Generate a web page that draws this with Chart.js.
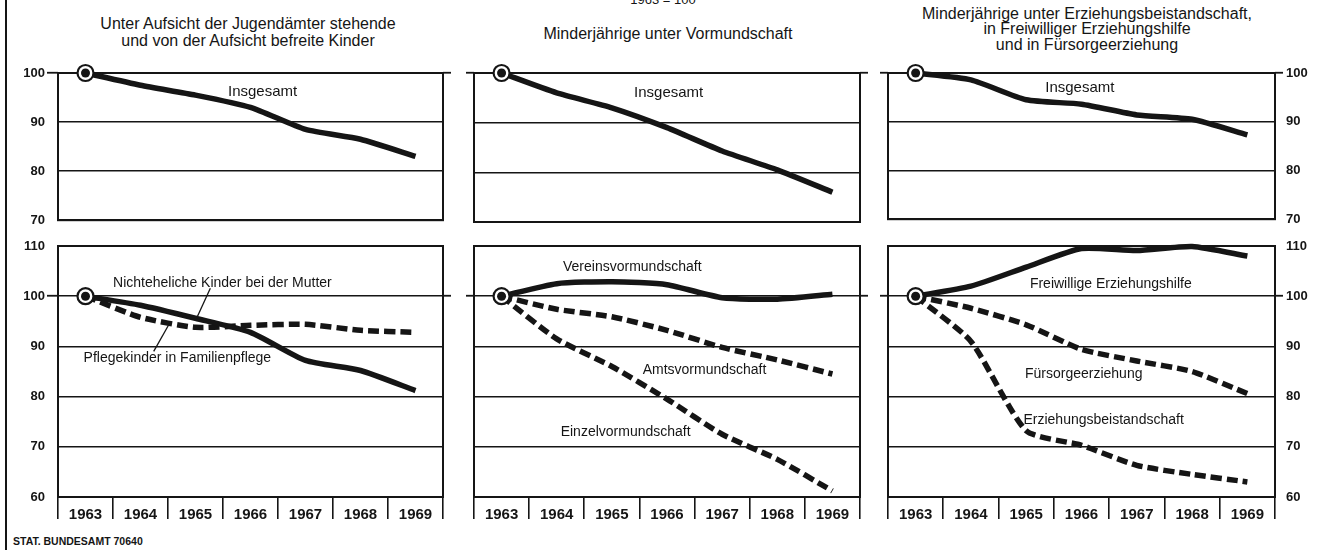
<!DOCTYPE html>
<html>
<head>
<meta charset="utf-8">
<script src="https://cdn.jsdelivr.net/npm/chart.js@4.4.1/dist/chart.umd.min.js"></script>
<style>
html,body{margin:0;padding:0;background:#fff;width:1324px;height:550px;overflow:hidden;}
#wrap{position:relative;width:1324px;height:550px;background:#fff;}
canvas{position:absolute;}
.t{position:absolute;font-family:'Liberation Sans',Arial,sans-serif;font-size:16px;color:#151515;text-align:center;white-space:nowrap;transform:translateX(-50%);}
#edge{position:absolute;left:5px;top:0;width:2px;height:550px;background:#151515;}
#foot{position:absolute;left:13px;top:535px;font-family:'Liberation Sans',Arial,sans-serif;font-weight:bold;font-size:10.5px;line-height:12px;color:#151515;white-space:nowrap;}
</style>
</head>
<body>
<div id="wrap">
  <div id="edge"></div>
  <div class="t" style="left:248px;top:15px;line-height:17px;">Unter Aufsicht der Jugendämter stehende<br>und von der Aufsicht befreite Kinder</div>
  <div class="t" style="left:663px;top:-7px;line-height:13px;font-size:13px;">1963 = 100</div>
  <div class="t" style="left:668px;top:25px;line-height:17px;">Minderjährige unter Vormundschaft</div>
  <div class="t" style="left:1087px;top:6px;line-height:15.4px;">Minderjährige unter Erziehungsbeistandschaft,<br>in Freiwilliger Erziehungshilfe<br>und in Fürsorgeerziehung</div>
  <div id="foot">STAT. BUNDESAMT 70640</div>
  <canvas id="c1" width="460" height="170" style="left:0px;top:60px;"></canvas>
  <canvas id="c2" width="420" height="170" style="left:460px;top:60px;"></canvas>
  <canvas id="c3" width="444" height="170" style="left:880px;top:60px;"></canvas>
  <canvas id="c4" width="460" height="320" style="left:0px;top:230px;"></canvas>
  <canvas id="c5" width="420" height="320" style="left:460px;top:230px;"></canvas>
  <canvas id="c6" width="444" height="320" style="left:880px;top:230px;"></canvas>
</div>
<script>
// ---------- data (index 1963 = 100) ----------
const years = ['1963', '1964', '1965', '1966', '1967', '1968', '1969'];

// top row: "Insgesamt"
const jugendamtInsgesamt      = [100, 97.5, 95.5, 93.0, 88.5, 86.5, 83.0];
const vormundschaftInsgesamt  = [100, 96.0, 93.0, 89.0, 84.3, 80.5, 76.0];
const erziehungInsgesamt      = [100, 98.6, 94.5, 93.6, 91.4, 90.5, 87.3];

// bottom row
const nichtehelicheKinder       = [100, 98.2, 95.6, 92.8, 87.2, 85.2, 81.2];
const pflegekinder              = [100, 95.8, 93.8, 94.2, 94.4, 93.2, 92.8];
const vereinsvormundschaft      = [100, 102.5, 102.9, 102.3, 99.7, 99.4, 100.4];
const amtsvormundschaft         = [100, 97.4, 95.9, 93.2, 89.8, 87.3, 84.5];
const einzelvormundschaft       = [100, 91.5, 86.0, 79.5, 72.5, 67.5, 61.2];
const freiwilligeErziehungshilfe= [100, 102.0, 105.8, 109.5, 109.1, 109.9, 108.0];
const fuersorgeerziehung        = [100, 97.6, 94.3, 89.4, 87.1, 85.0, 80.6];
const erziehungsbeistandschaft  = [100, 91.0, 73.2, 70.3, 66.3, 64.5, 63.0];

// axis ranges
const topRange = [70, 100];
const bottomRange = [60, 110];
const baseValue = 100;

// ---------- styling ----------
const INK = '#151515';
const SANS = "'Liberation Sans', Arial, sans-serif";

const panelPlugin = {
  id: 'panel',
  beforeDatasetsDraw(chart) {
    const {ctx, chartArea: a} = chart;
    ctx.save();
    ctx.strokeStyle = INK;
    ctx.lineWidth = 2;
    ctx.strokeRect(a.left, a.top, a.right - a.left, a.bottom - a.top);
    ctx.restore();
  },
  afterDatasetsDraw(chart, args, opts) {
    const ctx = chart.ctx, xs = chart.scales.x, ys = chart.scales.y;
    ctx.save();
    ctx.strokeStyle = INK;
    ctx.fillStyle = INK;
    (opts.leaders || []).forEach(l => {
      ctx.lineWidth = 1.3;
      ctx.beginPath();
      ctx.moveTo(xs.getPixelForValue(l.from[0]), ys.getPixelForValue(l.from[1]));
      ctx.lineTo(xs.getPixelForValue(l.to[0]), ys.getPixelForValue(l.to[1]));
      ctx.stroke();
    });
    ctx.textAlign = 'center';
    ctx.textBaseline = 'middle';
    (opts.notes || []).forEach(n => {
      ctx.font = (n.size || 14) + 'px ' + SANS;
      ctx.fillText(n.text, xs.getPixelForValue(n.at[0]), ys.getPixelForValue(n.at[1]));
    });
    // base-year marker (1963 = 100)
    const el = chart.getDatasetMeta(0).data[0];
    if (el) {
      ctx.beginPath();
      ctx.arc(el.x, el.y, 8, 0, Math.PI * 2);
      ctx.fillStyle = '#fff';
      ctx.fill();
      ctx.lineWidth = 2.2;
      ctx.strokeStyle = INK;
      ctx.stroke();
      ctx.beginPath();
      ctx.arc(el.x, el.y, 4.5, 0, Math.PI * 2);
      ctx.fillStyle = INK;
      ctx.fill();
    }
    ctx.restore();
  }
};

function line(data, dashed) {
  return {
    data: data,
    borderColor: INK,
    borderWidth: 5.5,
    borderDash: dashed ? [11, 5] : [],
    borderCapStyle: 'butt',
    borderJoinStyle: 'round',
    pointRadius: 0,
    tension: 0.2,
    fill: false,
    clip: false
  };
}

function tickAt100(ctx) {
  return ctx.tick && ctx.tick.value === baseValue ? INK : 'rgba(0,0,0,0)';
}

function makeChart(id, cfg) {
  const range = cfg.bottom ? bottomRange : topRange;
  return new Chart(document.getElementById(id), {
    type: 'line',
    data: { labels: years, datasets: cfg.datasets },
    plugins: [panelPlugin],
    options: {
      responsive: false,
      animation: false,
      devicePixelRatio: 1,
      events: [],
      layout: { padding: { top: cfg.bottom ? 16 : 13, bottom: cfg.bottom ? 0 : 8, left: 0, right: 0 } },
      plugins: {
        legend: { display: false },
        tooltip: { enabled: false },
        panel: { notes: cfg.notes || [], leaders: cfg.leaders || [] }
      },
      scales: {
        x: {
          type: 'category',
          offset: true,
          display: !!cfg.bottom,
          grid: { offset: true, drawOnChartArea: false, drawTicks: true, tickLength: 22, color: INK, lineWidth: 1.6 },
          border: { display: false },
          ticks: { color: INK, font: { family: SANS, size: 15, weight: 'bold' }, padding: -13, maxRotation: 0, autoSkip: false },
          afterFit(s) { s.height = cfg.bottom ? 53 : 0; }
        },
        y: {
          position: 'left',
          min: range[0], max: range[1],
          grid: { drawOnChartArea: true, drawTicks: true, tickLength: cfg.leftTick, color: INK, lineWidth: 1.5, tickColor: tickAt100, tickWidth: 1.8 },
          border: { display: false },
          ticks: { display: !!cfg.leftLabels, stepSize: 10, color: INK, padding: 2, font: { family: SANS, size: 13, weight: 'bold' } },
          afterFit(s) { s.width = cfg.leftW; }
        },
        y2: {
          position: 'right',
          display: true,
          min: range[0], max: range[1],
          grid: { drawOnChartArea: false, drawTicks: true, tickLength: 8, color: INK, lineWidth: 1.5, tickColor: tickAt100, tickWidth: 1.8 },
          border: { display: false },
          ticks: { display: !!cfg.rightLabels, stepSize: 10, color: INK, padding: 3, font: { family: SANS, size: 13, weight: 'bold' } },
          afterFit(s) { s.width = cfg.rightW; }
        }
      }
    }
  });
}

// column geometry
const col1 = { leftW: 58, rightW: 17, leftTick: 11, leftLabels: true };
const col2 = { leftW: 14, rightW: 20, leftTick: 8 };
const col3 = { leftW: 8, rightW: 49, leftTick: 8, rightLabels: true };

makeChart('c1', Object.assign({}, col1, {
  datasets: [line(jugendamtInsgesamt, false)],
  notes: [{ text: 'Insgesamt', at: [3.22, 96.2], size: 15 }]
}));
makeChart('c2', Object.assign({}, col2, {
  datasets: [line(vormundschaftInsgesamt, false)],
  notes: [{ text: 'Insgesamt', at: [3.03, 96.0], size: 15 }]
}));
makeChart('c3', Object.assign({}, col3, {
  datasets: [line(erziehungInsgesamt, false)],
  notes: [{ text: 'Insgesamt', at: [2.97, 97.0], size: 15 }]
}));
makeChart('c4', Object.assign({}, col1, {
  bottom: true,
  datasets: [line(nichtehelicheKinder, false), line(pflegekinder, true)],
  notes: [
    { text: 'Nichteheliche Kinder bei der Mutter', at: [2.49, 102.6] },
    { text: 'Pflegekinder in Familienpflege', at: [1.67, 87.6] }
  ],
  leaders: [
    { from: [2.27, 101.6], to: [2.02, 95.6] },
    { from: [1.24, 89.0], to: [1.55, 95.0] }
  ]
}));
makeChart('c5', Object.assign({}, col2, {
  bottom: true,
  datasets: [line(vereinsvormundschaft, false), line(amtsvormundschaft, true), line(einzelvormundschaft, true)],
  notes: [
    { text: 'Vereinsvormundschaft', at: [2.37, 105.8] },
    { text: 'Amtsvormundschaft', at: [3.68, 85.3] },
    { text: 'Einzelvormundschaft', at: [2.25, 72.9] }
  ]
}));
makeChart('c6', Object.assign({}, col3, {
  bottom: true,
  datasets: [line(freiwilligeErziehungshilfe, false), line(fuersorgeerziehung, true), line(erziehungsbeistandschaft, true)],
  notes: [
    { text: 'Freiwillige Erziehungshilfe', at: [3.53, 102.4] },
    { text: 'Fürsorgeerziehung', at: [3.04, 84.4] },
    { text: 'Erziehungsbeistandschaft', at: [3.4, 75.3] }
  ]
}));
</script>
</body>
</html>
